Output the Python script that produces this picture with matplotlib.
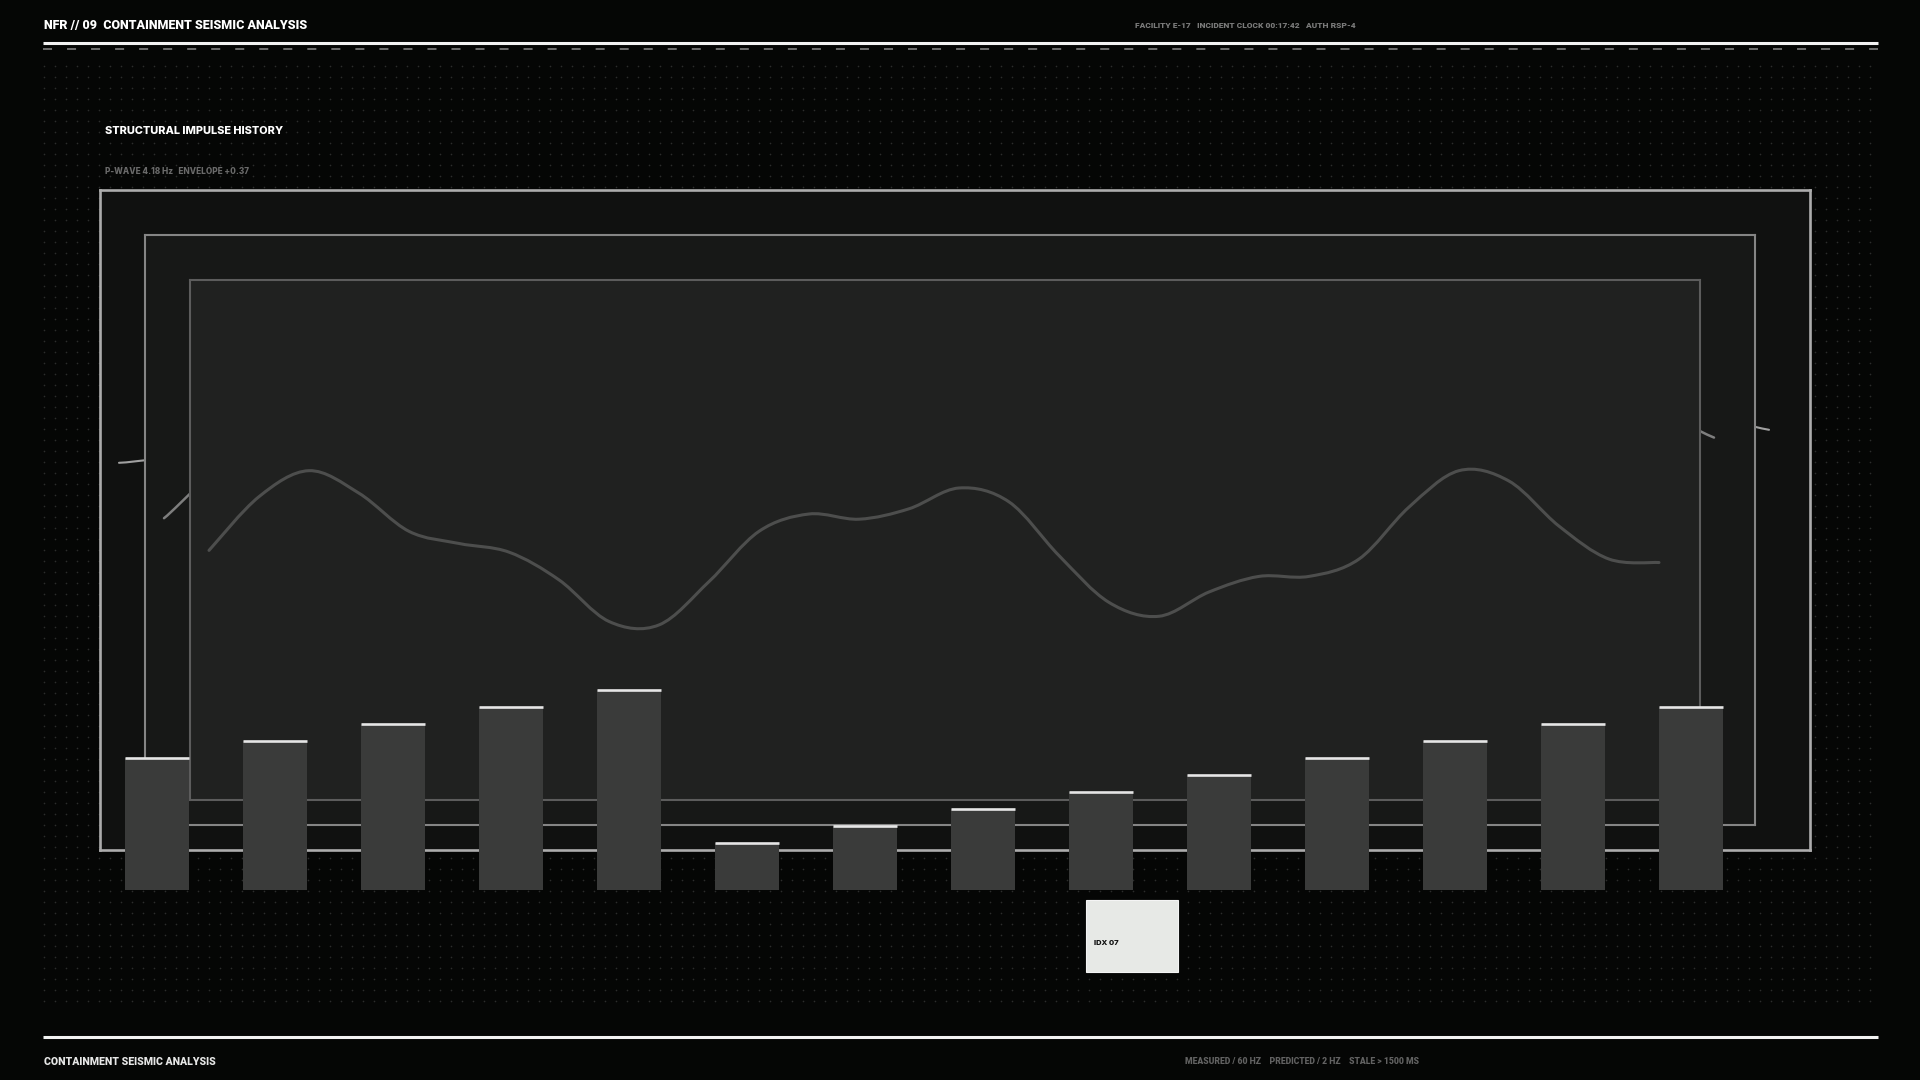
import numpy as np
import matplotlib.pyplot as plt
from matplotlib.path import Path
from matplotlib.patches import PathPatch, Rectangle

plt.rcParams['lines.scale_dashes'] = False

# ---- data ----
bar_idx = np.arange(14)
bar_vals = [0.62, 0.70, 0.78, 0.86, 0.94, 0.22, 0.30, 0.38, 0.46, 0.54, 0.62, 0.70, 0.78, 0.86]

# structural impulse trace (current layer)
impulse = [0.24, 0.55, 0.70, 0.57, 0.35, 0.28, 0.23, 0.07, -0.17, -0.19,
           0.06, 0.35, 0.45, 0.42, 0.48, 0.60, 0.52, 0.21, -0.06, -0.14,
           0.00, 0.09, 0.09, 0.19, 0.49, 0.70, 0.64, 0.38, 0.19, 0.17]
# older history layers (mostly hidden behind the inner panels)
echo_mid = [0.36, 0.72, 0.55, 0.30, 0.10, 0.25, 0.50, 0.40, 0.60, 0.35,
            0.05, 0.20, 0.45, 0.30, 0.55, 0.85, 0.95, 0.77]
echo_out = [0.56, 0.57, 0.35, 0.20, 0.40, 0.62, 0.45, 0.15, 0.30, 0.50,
            0.70, 0.40, 0.10, 0.25, 0.50, 0.65, 0.78, 0.71]

tooltip_label = "IDX 07"
title = "NFR // 09  CONTAINMENT SEISMIC ANALYSIS"
meta = "FACILITY E-17   INCIDENT CLOCK 00:17:42   AUTH RSP-4"
panel_title = "STRUCTURAL IMPULSE HISTORY"
panel_sub = "P-WAVE 4.18 Hz   ENVELOPE +0.37"
footer = "CONTAINMENT SEISMIC ANALYSIS"
footer_meta = "MEASURED / 60 HZ    PREDICTED / 2 HZ    STALE > 1500 MS"

W, H = 1920, 1080
BG = "#050605"
NARROW = ['Roboto', 'DejaVu Sans']
SANS = ['Inter', 'DejaVu Sans']


def frac(x0, y0, x1, y1):
    return [x0 / W, 1 - y1 / H, (x1 - x0) / W, (y1 - y0) / H]


def smooth_path(ys):
    # catmull-rom through the points, written as cubic beziers
    pts = np.column_stack([np.arange(len(ys)), ys]).astype(float)
    ext = np.vstack([pts[0], pts, pts[-1]])
    verts, codes = [pts[0]], [Path.MOVETO]
    for i in range(len(pts) - 1):
        p0, p1, p2, p3 = ext[i], ext[i + 1], ext[i + 2], ext[i + 3]
        verts += [p1 + (p2 - p0) / 6, p2 - (p3 - p1) / 6, p2]
        codes += [Path.CURVE4] * 3
    return Path(verts, codes)


fig = plt.figure(figsize=(19.2, 10.8), dpi=100, facecolor=BG)
renderer = fig.canvas.get_renderer()


def fit_text(ax, x, y, s, width, size, **kw):
    # size the label so that it spans roughly `width` pixels
    t = ax.text(x, y, s, fontsize=size, va='center', ha='left', **kw)
    w = t.get_window_extent(renderer).width
    t.set_fontsize(size * width / w)
    return t


# --- background: dot grid + header/footer rules ---
bg = fig.add_axes([0, 0, 1, 1], zorder=0)
bg.set_xlim(0, W)
bg.set_ylim(H, 0)
bg.axis('off')
bg.set_facecolor(BG)
gx, gy = np.meshgrid(np.arange(44, 1876, 11), np.arange(66, 1008, 11))
bg.scatter(gx.ravel(), gy.ravel(), s=1.4, color="#2c2d2c", linewidths=0)
bg.plot([43, 1878], [43, 43], color="#f2f2f2", lw=2.2, solid_capstyle='butt')
bg.plot([43, 1878], [48.5, 48.5], color="#6e6e6e", lw=1.4, dashes=(6.5, 10.8))
bg.plot([43, 1878], [1037, 1037], color="#f2f2f2", lw=2.2, solid_capstyle='butt')

# --- nested panels, each with its own trace ---
panels = [
    ((100, 190, 1810, 850), "#101110", "#acacac", 1.9, echo_out, "#a0a0a0", 1.5),
    ((145, 235, 1755, 825), "#171817", "#858585", 1.5, echo_mid, "#7e7e7e", 1.8),
    ((190, 280, 1700, 800), "#202120", "#5c5c5c", 1.5, impulse, "#4d4e4d", 2.2),
]
pad_l, pad_r = 19, 41
for k, (box, face, edge, elw, series, lc, llw) in enumerate(panels):
    x0, y0, x1, y1 = box
    ax = fig.add_axes(frac(x0, y0, x1, y1), zorder=k + 1)
    ax.set_facecolor(face)
    n = len(series) - 1
    step = (x1 - x0 - pad_l - pad_r) / n
    ax.set_xlim(-pad_l / step, n + pad_r / step)
    ax.set_ylim(-1.2, 1.8)
    ax.set_xticks([])
    ax.set_yticks([])
    for s in ax.spines.values():
        s.set_color(edge)
        s.set_linewidth(elw)
    ax.add_patch(PathPatch(smooth_path(series), fill=False, edgecolor=lc,
                           lw=llw, capstyle='round', joinstyle='round'))

# --- bars ---
bx = fig.add_axes(frac(98, 677.5, 1750, 890), zorder=10)
bx.set_xlim(-0.5, 13.5)
bx.set_ylim(0, 1)
bx.axis('off')
bx.patch.set_alpha(0)
bw = 0.54
bx.bar(bar_idx, bar_vals, width=bw, color="#3a3b3a", clip_on=False)
bx.hlines(bar_vals, bar_idx - bw / 2, bar_idx + bw / 2, color="#e6e6e6",
          lw=1.9, clip_on=False)

# --- overlay texts and tooltip ---
top = fig.add_axes([0, 0, 1, 1], zorder=20)
top.set_xlim(0, W)
top.set_ylim(H, 0)
top.axis('off')
top.patch.set_alpha(0)

fit_text(top, 44, 25, title, 264, 10, color="#ffffff", fontweight='heavy', family=NARROW)
fit_text(top, 1135, 26, meta, 218, 7, color="#7a7a7a", fontweight='heavy', family=NARROW)
fit_text(top, 105, 131, panel_title, 178, 7.6, color="#ffffff", fontweight='heavy', family=SANS)
fit_text(top, 105, 172, panel_sub, 144, 5.6, color="#6a6a6a", fontweight='heavy', family=SANS)
fit_text(top, 44, 1062, footer, 170, 8.6, color="#e6e6e6", fontweight='heavy', family=NARROW)
fit_text(top, 1185, 1062, footer_meta, 232, 7, color="#626262", fontweight='heavy', family=NARROW)

top.add_patch(Rectangle((1086, 900), 92, 72, facecolor="#e7e9e6",
                        edgecolor="#f4f4f4", lw=0.8))
fit_text(top, 1094, 943, tooltip_label, 25, 6.0, color="#111111",
         fontweight='heavy', family=SANS)

fig.savefig("out.png", dpi=100, facecolor=BG)
